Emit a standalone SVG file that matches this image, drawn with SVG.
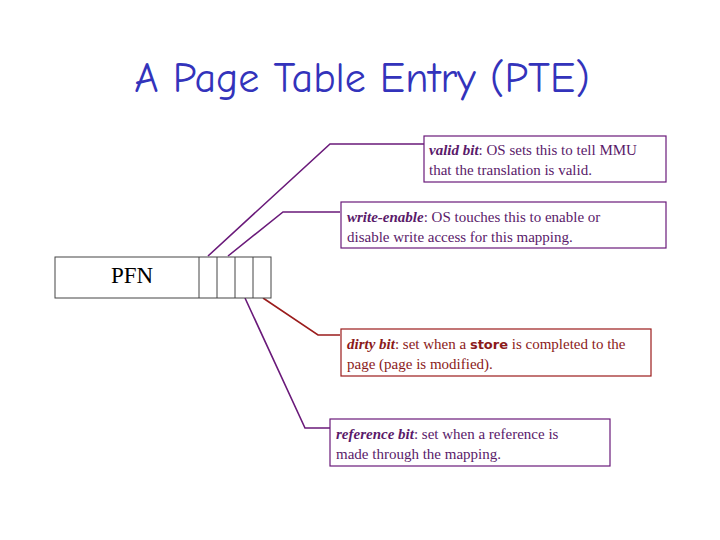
<svg xmlns="http://www.w3.org/2000/svg" width="720" height="540" viewBox="0 0 720 540">
<style>
.t{font-family:"Liberation Serif",serif;font-size:15px}
.p{fill:#5a1a6a}.r{fill:#8b1a1a}
.bx{fill:#fff;stroke-width:1.2}
.pl{stroke:#6a1a7a}.rl{stroke:#9b1c1c}
</style>
<rect width="720" height="540" fill="#fff"/>
<text x="362" y="92" text-anchor="middle" font-family="'Comic Neue','DejaVu Sans',sans-serif" font-size="42" fill="#3333bb">A Page Table Entry (PTE)</text>
<g id="connectors" fill="none" stroke-width="1.6">
<polyline class="pl" points="208,256 330,144 424,144"/>
<polyline class="pl" points="228,256 283,212 340,212"/>
<polyline class="rl" points="263,298 318,335 340,335"/>
<polyline class="pl" points="245,298 305,428 330,428"/>
</g>
<g id="pte" fill="#fff" stroke="#444" stroke-width="1">
<rect x="55" y="257" width="216" height="41"/>
<line x1="199" y1="257" x2="199" y2="298"/>
<line x1="217" y1="257" x2="217" y2="298"/>
<line x1="235" y1="257" x2="235" y2="298"/>
<line x1="253" y1="257" x2="253" y2="298"/>
<text x="132" y="283" text-anchor="middle" font-family="'Liberation Serif',serif" font-size="23" fill="#000" stroke="none">PFN</text>
</g>
<g id="valid">
<rect class="bx pl" x="424" y="136" width="242" height="46"/>
<text class="t p" x="429" y="155"><tspan font-style="italic" font-weight="bold">valid bit</tspan>: OS sets this to tell MMU</text>
<text class="t p" x="429" y="175">that the translation is valid.</text>
</g>
<g id="write">
<rect class="bx pl" x="341" y="202" width="325" height="46"/>
<text class="t p" x="347" y="222"><tspan font-style="italic" font-weight="bold">write-enable</tspan>: OS touches this to enable or</text>
<text class="t p" x="347" y="242">disable write access for this mapping.</text>
</g>
<g id="dirty">
<rect class="bx rl" x="341" y="329" width="310" height="47"/>
<text class="t r" x="347" y="349"><tspan font-style="italic" font-weight="bold">dirty bit</tspan>: set when a <tspan font-weight="bold" font-family="'DejaVu Sans',sans-serif" font-size="13">store</tspan> is completed to the</text>
<text class="t r" x="347" y="369">page (page is modified).</text>
</g>
<g id="reference">
<rect class="bx pl" x="330" y="419" width="280" height="47"/>
<text class="t p" x="336" y="439"><tspan font-style="italic" font-weight="bold">reference bit</tspan>: set when a reference is</text>
<text class="t p" x="336" y="459">made through the mapping.</text>
</g>
</svg>
